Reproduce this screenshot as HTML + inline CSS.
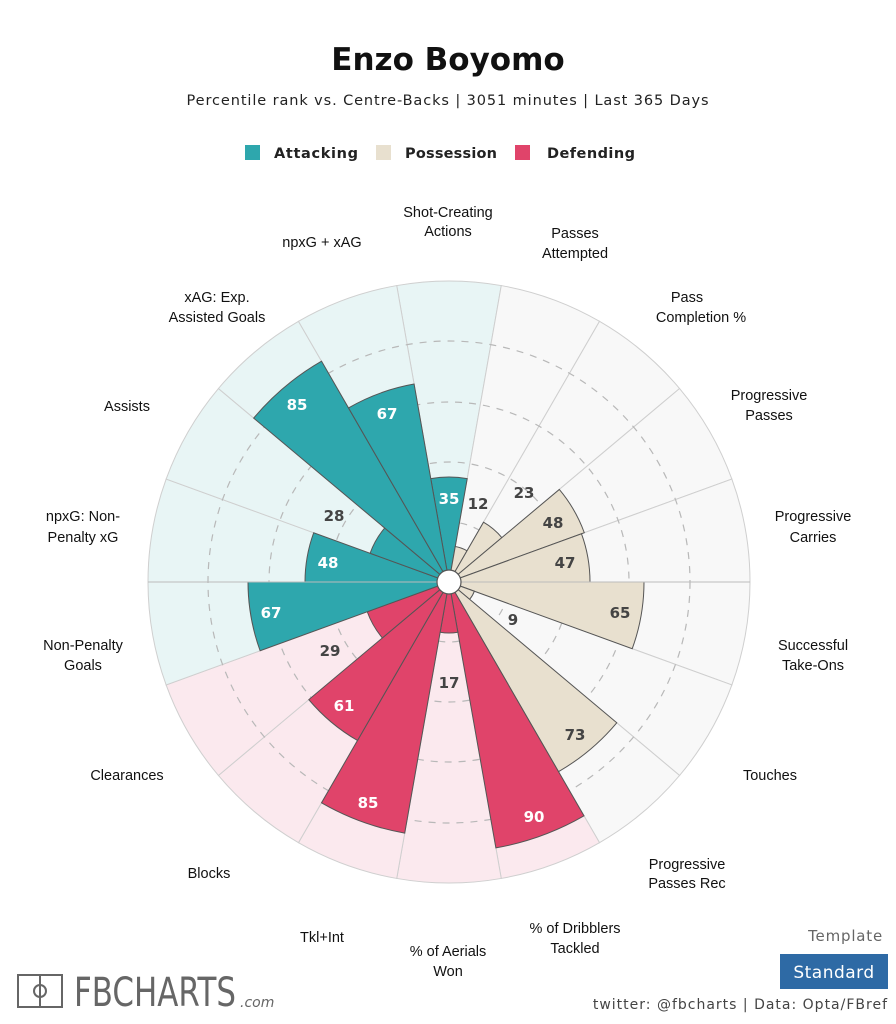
<!DOCTYPE html>
<html><head><meta charset="utf-8">
<style>
html,body{margin:0;padding:0;background:#fff;}
body{width:896px;height:1024px;position:relative;overflow:hidden;font-family:"Liberation Sans",sans-serif;}
svg{position:absolute;left:0;top:0;}
</style></head>
<body>
<svg id="s" width="896" height="1024" viewBox="0 0 896 1024" xmlns="http://www.w3.org/2000/svg">
<g id="shapes"></g>
<g font-family="DejaVu Sans, sans-serif" text-anchor="middle">
<text x="448" y="70" font-size="31" font-weight="bold" fill="#111">Enzo Boyomo</text>
<text x="448" y="105" font-size="14.5" fill="#222" letter-spacing="0.9">Percentile rank vs. Centre-Backs | 3051 minutes | Last 365 Days</text>
</g>
<g font-family="DejaVu Sans, sans-serif" font-size="14.5" font-weight="bold" fill="#222">
<rect x="245" y="145" width="15" height="15" fill="#2ea7ad"/>
<text x="274" y="158" textLength="84" lengthAdjust="spacing">Attacking</text>
<rect x="376" y="145" width="15" height="15" fill="#e8e0cf"/>
<text x="405" y="158" textLength="92" lengthAdjust="spacing">Possession</text>
<rect x="515" y="145" width="15" height="15" fill="#e0446a"/>
<text x="547" y="158" textLength="88" lengthAdjust="spacing">Defending</text>
</g>
<g id="cats" font-family="Liberation Sans, sans-serif" font-size="14.5" fill="#111" text-anchor="middle">
<text x="448" y="217">Shot-Creating</text><text x="448" y="236">Actions</text>
<text x="575" y="238">Passes</text><text x="575" y="258">Attempted</text>
<text x="687" y="302">Pass</text><text x="701" y="322">Completion %</text>
<text x="769" y="400">Progressive</text><text x="769" y="420">Passes</text>
<text x="813" y="521">Progressive</text><text x="813" y="542">Carries</text>
<text x="813" y="650">Successful</text><text x="813" y="670">Take-Ons</text>
<text x="770" y="780">Touches</text>
<text x="687" y="869">Progressive</text><text x="687" y="888">Passes Rec</text>
<text x="575" y="933">% of Dribblers</text><text x="575" y="953">Tackled</text>
<text x="448" y="956">% of Aerials</text><text x="448" y="976">Won</text>
<text x="322" y="942">Tkl+Int</text>
<text x="209" y="878">Blocks</text>
<text x="127" y="780">Clearances</text>
<text x="83" y="650">Non-Penalty</text><text x="83" y="670">Goals</text>
<text x="83" y="521">npxG: Non-</text><text x="83" y="542">Penalty xG</text>
<text x="127" y="411">Assists</text>
<text x="217" y="302">xAG: Exp.</text><text x="217" y="322">Assisted Goals</text>
<text x="322" y="247">npxG + xAG</text>
</g>
<g font-family="DejaVu Sans, sans-serif" font-size="15" font-weight="bold" text-anchor="middle">
<text x="449" y="504" fill="#fff">35</text>
<text x="478" y="509" fill="#444">12</text>
<text x="524" y="498" fill="#444">23</text>
<text x="553" y="528" fill="#444">48</text>
<text x="565" y="568" fill="#444">47</text>
<text x="620" y="618" fill="#444">65</text>
<text x="513" y="625" fill="#444">9</text>
<text x="575" y="740" fill="#444">73</text>
<text x="534" y="822" fill="#fff">90</text>
<text x="449" y="688" fill="#444">17</text>
<text x="368" y="808" fill="#fff">85</text>
<text x="344" y="711" fill="#fff">61</text>
<text x="330" y="656" fill="#444">29</text>
<text x="271" y="618" fill="#fff">67</text>
<text x="328" y="568" fill="#fff">48</text>
<text x="334" y="521" fill="#444">28</text>
<text x="297" y="410" fill="#fff">85</text>
<text x="387" y="419" fill="#fff">67</text>
</g>
<!-- footer -->
<rect x="18" y="975" width="44" height="32" fill="none" stroke="#666" stroke-width="2"/>
<line x1="40" y1="975" x2="40" y2="1007" stroke="#666" stroke-width="2"/>
<circle cx="40" cy="991" r="6" fill="none" stroke="#666" stroke-width="2"/>
<text x="74" y="1006" font-family="DejaVu Sans, sans-serif" font-size="40" fill="#666" textLength="162" lengthAdjust="spacingAndGlyphs">FBCHARTS</text>
<text x="240" y="1007" font-family="DejaVu Sans, sans-serif" font-size="14" font-style="italic" fill="#666">.com</text>
<text x="883" y="941" font-family="DejaVu Sans, sans-serif" font-size="15" fill="#666" text-anchor="end" letter-spacing="0.8">Template</text>
<rect x="780" y="954" width="108" height="35" fill="#2e6aa5"/>
<text x="834" y="978" font-family="DejaVu Sans, sans-serif" font-size="17" fill="#fff" text-anchor="middle" letter-spacing="0.5">Standard</text>
<text x="888" y="1009" font-family="DejaVu Sans, sans-serif" font-size="14" fill="#444" text-anchor="end" letter-spacing="1">twitter: @fbcharts | Data: Opta/FBref</text>
</svg>
<script>
(function(){
var cx=449,cy=582,R=301,g=document.getElementById('shapes'),NS='http://www.w3.org/2000/svg';
var vals=[35,12,23,48,47,65,9,73,90,17,85,61,29,67,48,28,85,67];
var grp=['a','p','p','p','p','p','p','p','d','d','d','d','d','a','a','a','a','a'];
var bg={a:'#e8f5f5',p:'#f8f8f8',d:'#fbe9ee'},fg={a:'#2ea7ad',p:'#e8e0cf',d:'#e0446a'};
function pt(r,deg){var a=deg*Math.PI/180;return [cx+r*Math.sin(a),cy-r*Math.cos(a)];}
function wedge(r,a0,a1){var p0=pt(r,a0),p1=pt(r,a1);return 'M'+cx+','+cy+'L'+p0[0].toFixed(2)+','+p0[1].toFixed(2)+'A'+r+','+r+' 0 0 1 '+p1[0].toFixed(2)+','+p1[1].toFixed(2)+'Z';}
function el(t,at){var e=document.createElementNS(NS,t);for(var k in at)e.setAttribute(k,at[k]);g.appendChild(e);return e;}
for(var i=0;i<18;i++){var a0=i*20-10,a1=a0+20;
 el('path',{d:wedge(R,a0,a1),fill:bg[grp[i]],stroke:'#cfcfcf','stroke-width':'1'});}
[60,120,180,241].forEach(function(r){el('circle',{cx:cx,cy:cy,r:r,fill:'none',stroke:'#b8b8b8','stroke-width':'1.2','stroke-dasharray':'7,7'});});
for(var i=0;i<18;i++){var a0=i*20-10,a1=a0+20,r=vals[i]*3.0;
 el('path',{d:wedge(r,a0,a1),fill:fg[grp[i]],stroke:'#555','stroke-width':'1'});}
el('line',{x1:cx-R,y1:cy,x2:cx,y2:cy,stroke:'#bbb','stroke-width':'1'});
el('line',{x1:cx,y1:cy,x2:cx+R,y2:cy,stroke:'#bbb','stroke-width':'1'});
el('circle',{cx:cx,cy:cy,r:12,fill:'#fff',stroke:'#555','stroke-width':'1.2'});
})();
</script>
</body></html>
